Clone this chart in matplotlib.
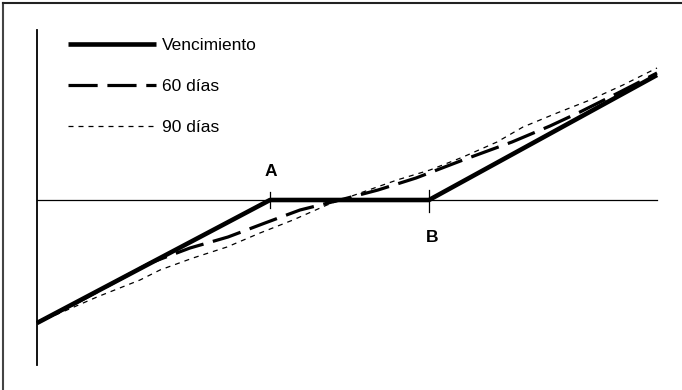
import matplotlib
matplotlib.use("Agg")
import matplotlib.pyplot as plt
from matplotlib.lines import Line2D

plt.rcParams['font.family'] = ['Liberation Sans', 'DejaVu Sans']
plt.rcParams['lines.scale_dashes'] = False

# payoff at expiry and before expiry (60 / 90 days)
x_venc = [0, 233, 392, 620]
y_venc = [-123, 0, 0, 125]

x_60 = [0, 43, 113, 153, 191, 228, 263, 303, 341, 379, 426, 475, 513, 543, 583, 620]
y_60 = [-123, -101, -63, -48, -37, -23, -10, 0, 10, 22, 40, 58, 74, 88, 108, 127]

x_90 = [0, 60, 103, 123, 156, 190, 223, 256, 290, 326, 360, 393, 426, 460, 486, 520, 553, 586, 620]
y_90 = [-123, -97, -80, -70, -58, -47, -33, -20, -5, 8, 20, 30, 43, 58, 73, 87, 100, 115, 132]

labels = ["Vencimiento", "60 días", "90 días"]
puntos = {"A": 233, "B": 392}

fig = plt.figure(figsize=(6.82, 3.9), dpi=100)
ax = fig.add_axes([0, 0, 1, 1])
ax.set_xlim(-37, 645)
ax.set_ylim(-190, 200)
ax.axis("off")

# ejes
ax.plot([0, 0], [170, -165], color="black", lw=1.3)
ax.plot([0, 620], [0, 0], color="black", lw=0.9)

l1, = ax.plot(x_venc, y_venc, color="black", lw=3.3, solid_capstyle="butt", label=labels[0])
l2, = ax.plot(x_60, y_60, color="black", lw=2.3, linestyle=(0, (21, 7)), dash_capstyle="butt", label=labels[1])
l3, = ax.plot(x_90, y_90, color="black", lw=0.9, linestyle=(0, (3.6, 3.6)), label=labels[2])

# marcas A y B
ax.plot([puntos["A"]] * 2, [8, -8], color="black", lw=0.9)
ax.plot([puntos["B"]] * 2, [10, -12], color="black", lw=0.9)
ax.text(puntos["A"] + 1, 28, "A", ha="center", va="center", fontsize=12.5, fontweight="bold")
ax.text(puntos["B"] + 3, -38, "B", ha="center", va="center", fontsize=12.5, fontweight="bold")

leg = ax.legend(handles=[l1, l2, l3], loc="upper left", bbox_to_anchor=(68 / 682, 1 - 38 / 390),
                frameon=False, fontsize=12.5, handlelength=5.05, handletextpad=0.35,
                labelspacing=1.48, borderpad=0, borderaxespad=0)

# borde superior e izquierdo
fig.add_artist(Line2D([3 / 682, 3 / 682], [0, 1 - 3 / 390], color="#444444", lw=1.5))
fig.add_artist(Line2D([3 / 682, 1], [1 - 3 / 390, 1 - 3 / 390], color="#222222", lw=1.5))

fig.savefig("out.png", dpi=100)
